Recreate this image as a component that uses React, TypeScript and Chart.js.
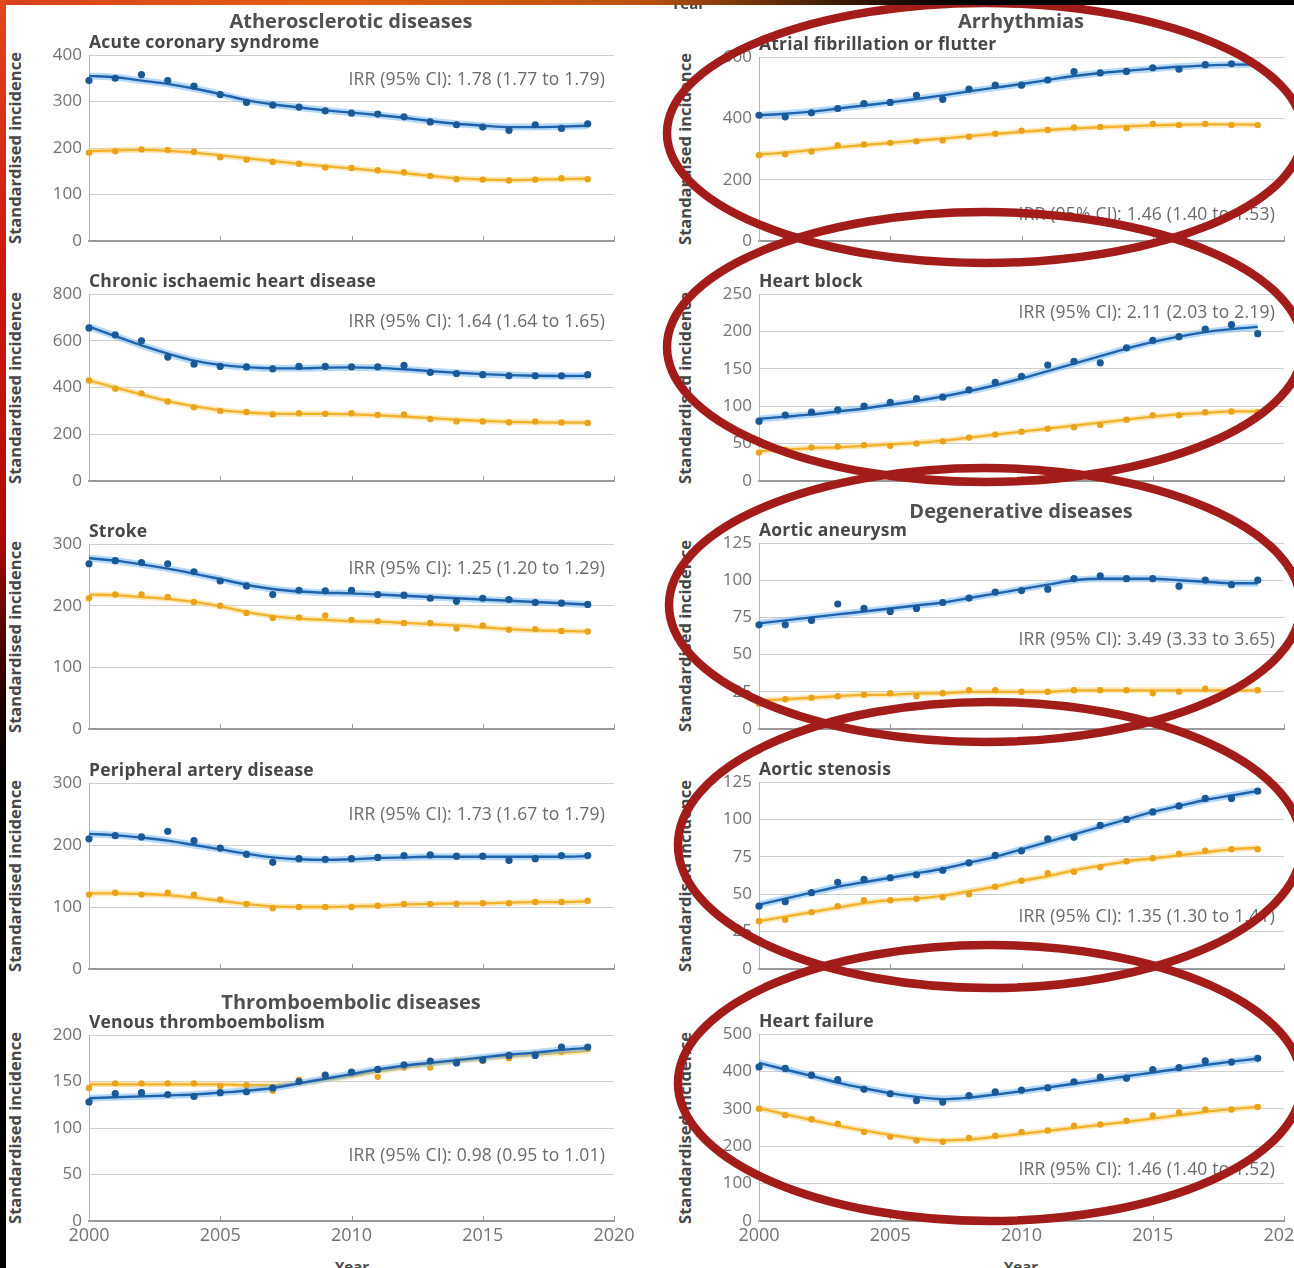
import React, { useEffect, useRef } from "react";
import { Chart, registerables } from "chart.js";
Chart.register(...registerables);

// ---------- data ----------
const YEARS = [2000, 2001, 2002, 2003, 2004, 2005, 2006, 2007, 2008, 2009, 2010, 2011, 2012, 2013, 2014, 2015, 2016, 2017, 2018, 2019];

// Acute coronary syndrome
const acsBlueDots = [345, 350, 358, 345, 333, 315, 298, 292, 288, 280, 275, 273, 267, 256, 250, 245, 238, 250, 242, 252];
const acsBlueFit = [355, 352, 345, 338, 328, 316, 303, 294, 287, 281, 276, 271, 265, 258, 252, 248, 245, 245, 246, 248];
const acsYellowDots = [190, 193, 197, 196, 192, 180, 175, 170, 166, 158, 157, 152, 148, 140, 133, 132, 130, 132, 135, 133];
const acsYellowFit = [193, 195, 196, 194, 190, 184, 178, 172, 166, 161, 156, 151, 146, 140, 135, 132, 131, 132, 133, 134];

// Chronic ischaemic heart disease
const cihdBlueDots = [655, 625, 600, 530, 500, 490, 488, 480, 490, 490, 488, 488, 495, 465, 460, 455, 450, 450, 450, 455];
const cihdBlueFit = [660, 620, 580, 545, 515, 497, 487, 482, 482, 485, 486, 484, 478, 470, 463, 457, 453, 450, 449, 450];
const cihdYellowDots = [430, 395, 375, 340, 315, 300, 295, 285, 290, 288, 290, 283, 285, 265, 255, 255, 250, 255, 250, 248];
const cihdYellowFit = [430, 400, 370, 342, 320, 303, 293, 288, 287, 287, 285, 281, 276, 269, 262, 257, 253, 251, 250, 250];

// Stroke
const strokeBlueDots = [268, 273, 270, 268, 255, 240, 232, 218, 225, 224, 225, 218, 217, 212, 207, 212, 210, 205, 204, 202];
const strokeBlueFit = [277, 273, 267, 260, 252, 243, 234, 227, 223, 221, 220, 218, 216, 214, 212, 210, 208, 206, 204, 202];
const strokeYellowDots = [212, 218, 218, 214, 206, 200, 188, 180, 181, 184, 177, 175, 172, 172, 163, 168, 161, 162, 159, 158];
const strokeYellowFit = [218, 217, 214, 211, 206, 199, 190, 183, 179, 177, 175, 174, 172, 170, 168, 165, 162, 160, 159, 158];

// Peripheral artery disease
const padBlueDots = [210, 215, 213, 222, 207, 195, 185, 172, 178, 177, 178, 180, 183, 184, 182, 182, 175, 178, 183, 183];
const padBlueFit = [218, 216, 212, 207, 200, 193, 186, 180, 177, 176, 177, 179, 180, 181, 181, 181, 181, 181, 181, 182];
const padYellowDots = [120, 123, 120, 123, 120, 112, 105, 98, 100, 100, 100, 102, 105, 105, 105, 106, 106, 108, 108, 110];
const padYellowFit = [122, 122, 121, 119, 115, 110, 105, 101, 100, 100, 101, 102, 104, 105, 106, 106, 107, 108, 108, 109];

// Venous thromboembolism
const vteBlueDots = [128, 137, 138, 136, 134, 138, 139, 143, 150, 157, 160, 163, 168, 172, 170, 173, 178, 178, 187, 187];
const vteBlueFit = [132, 133, 134, 135, 136, 138, 140, 143, 148, 153, 158, 163, 167, 170, 173, 176, 179, 181, 184, 186];
const vteYellowDots = [143, 148, 148, 148, 148, 145, 146, 140, 152, 155, 158, 155, 165, 165, 173, 172, 175, 180, 182, 185];
const vteYellowFit = [147, 147, 147, 147, 147, 147, 146, 146, 148, 152, 156, 161, 165, 169, 172, 175, 177, 179, 181, 183];

// Atrial fibrillation or flutter
const afBlueDots = [410, 405, 418, 432, 448, 452, 475, 462, 495, 508, 508, 525, 552, 548, 553, 565, 560, 575, 578, 572];
const afBlueFit = [410, 415, 422, 432, 442, 452, 463, 475, 488, 500, 512, 525, 538, 548, 555, 562, 568, 572, 575, 576];
const afYellowDots = [280, 283, 292, 312, 315, 320, 325, 328, 340, 350, 360, 362, 370, 372, 368, 382, 378, 382, 378, 378];
const afYellowFit = [282, 288, 296, 305, 313, 320, 327, 334, 342, 349, 356, 362, 367, 371, 374, 377, 379, 380, 380, 379];

// Heart block
const hbBlueDots = [80, 88, 92, 95, 100, 105, 110, 112, 122, 132, 140, 155, 160, 158, 178, 188, 193, 203, 209, 197];
const hbBlueFit = [83, 86, 89, 93, 97, 102, 107, 113, 120, 128, 137, 147, 157, 167, 177, 186, 193, 199, 203, 206];
const hbYellowDots = [38, 42, 45, 46, 48, 47, 50, 53, 58, 62, 66, 70, 72, 75, 82, 88, 88, 92, 93, 92];
const hbYellowFit = [40, 42, 44, 45, 47, 49, 51, 54, 58, 62, 66, 70, 74, 78, 82, 86, 89, 91, 93, 93];

// Aortic aneurysm
const aaBlueDots = [70, 70, 73, 84, 81, 79, 81, 85, 88, 92, 93, 94, 101, 103, 101, 101, 96, 100, 97, 100];
const aaBlueFit = [71, 73, 75, 77, 79, 81, 83, 85, 88, 91, 94, 97, 100, 101, 101, 101, 100, 99, 98, 98];
const aaYellowDots = [17, 20, 21, 22, 23, 24, 22, 24, 26, 26, 25, 25, 26, 26, 26, 24, 25, 27, 26, 26];
const aaYellowFit = [19, 20, 21, 22, 23, 23, 24, 24, 25, 25, 25, 25, 26, 26, 26, 26, 26, 26, 26, 26];

// Aortic stenosis
const asBlueDots = [42, 45, 51, 58, 60, 61, 63, 66, 71, 76, 79, 87, 88, 96, 100, 105, 109, 114, 114, 119];
const asBlueFit = [43, 47, 51, 55, 58, 61, 64, 67, 71, 75, 80, 85, 90, 95, 100, 105, 109, 113, 116, 119];
const asYellowDots = [32, 33, 38, 42, 46, 46, 47, 48, 50, 55, 59, 64, 65, 68, 72, 74, 77, 79, 80, 80];
const asYellowFit = [32, 35, 38, 41, 44, 46, 47, 49, 52, 55, 59, 62, 66, 69, 72, 74, 76, 78, 80, 81];

// Heart failure
const hfBlueDots = [412, 408, 390, 378, 352, 340, 322, 318, 335, 345, 350, 356, 372, 385, 382, 405, 410, 428, 425, 435];
const hfBlueFit = [423, 405, 388, 370, 355, 342, 332, 326, 330, 338, 347, 357, 367, 377, 387, 397, 407, 417, 426, 434];
const hfYellowDots = [300, 283, 272, 260, 238, 225, 215, 212, 222, 228, 238, 242, 255, 258, 268, 282, 290, 298, 298, 305];
const hfYellowFit = [302, 285, 270, 255, 242, 230, 220, 215, 218, 225, 233, 241, 249, 257, 265, 274, 283, 292, 299, 305];

const X_MIN = 2000;
const X_MAX = 2020;
const X_STEP = 5;

// ---------- layout ----------
const COL_LEFT = [89, 759];
const PLOT_W = 525;
const ROWS_LEFT = [[55, 241], [294, 481], [544, 729], [783, 969], [1035, 1221]];
const ROWS_RIGHT = [[57, 241], [294, 481], [543, 729], [782, 969], [1034, 1221]];

const FONT = "'Open Sans', 'Noto Sans', sans-serif";
const BLUE_LINE = "#1f62ad";
const BLUE_DOT = "#1a5896";
const BLUE_BAND = "rgba(120,185,240,0.55)";
const YEL_LINE = "#f2b22c";
const YEL_DOT = "#e9a31a";
const YEL_BAND = "rgba(252,214,130,0.55)";

type PanelCfg = {
  col: number;
  row: number;
  yMax: number;
  yStep: number;
  blueDots: number[];
  blueFit: number[];
  yellowDots: number[];
  yellowFit: number[];
  title: string;
  irr: string;
  irrY: number;
};

const PANELS: PanelCfg[] = [
  { col: 0, row: 0, yMax: 400, yStep: 100, blueDots: acsBlueDots, blueFit: acsBlueFit, yellowDots: acsYellowDots, yellowFit: acsYellowFit, title: "Acute coronary syndrome", irr: "IRR (95% CI): 1.78 (1.77 to 1.79)", irrY: 78 },
  { col: 0, row: 1, yMax: 800, yStep: 200, blueDots: cihdBlueDots, blueFit: cihdBlueFit, yellowDots: cihdYellowDots, yellowFit: cihdYellowFit, title: "Chronic ischaemic heart disease", irr: "IRR (95% CI): 1.64 (1.64 to 1.65)", irrY: 320 },
  { col: 0, row: 2, yMax: 300, yStep: 100, blueDots: strokeBlueDots, blueFit: strokeBlueFit, yellowDots: strokeYellowDots, yellowFit: strokeYellowFit, title: "Stroke", irr: "IRR (95% CI): 1.25 (1.20 to 1.29)", irrY: 567 },
  { col: 0, row: 3, yMax: 300, yStep: 100, blueDots: padBlueDots, blueFit: padBlueFit, yellowDots: padYellowDots, yellowFit: padYellowFit, title: "Peripheral artery disease", irr: "IRR (95% CI): 1.73 (1.67 to 1.79)", irrY: 813 },
  { col: 0, row: 4, yMax: 200, yStep: 50, blueDots: vteBlueDots, blueFit: vteBlueFit, yellowDots: vteYellowDots, yellowFit: vteYellowFit, title: "Venous thromboembolism", irr: "IRR (95% CI): 0.98 (0.95 to 1.01)", irrY: 1154 },
  { col: 1, row: 0, yMax: 600, yStep: 200, blueDots: afBlueDots, blueFit: afBlueFit, yellowDots: afYellowDots, yellowFit: afYellowFit, title: "Atrial fibrillation or flutter", irr: "IRR (95% CI): 1.46 (1.40 to 1.53)", irrY: 213 },
  { col: 1, row: 1, yMax: 250, yStep: 50, blueDots: hbBlueDots, blueFit: hbBlueFit, yellowDots: hbYellowDots, yellowFit: hbYellowFit, title: "Heart block", irr: "IRR (95% CI): 2.11 (2.03 to 2.19)", irrY: 311 },
  { col: 1, row: 2, yMax: 125, yStep: 25, blueDots: aaBlueDots, blueFit: aaBlueFit, yellowDots: aaYellowDots, yellowFit: aaYellowFit, title: "Aortic aneurysm", irr: "IRR (95% CI): 3.49 (3.33 to 3.65)", irrY: 638 },
  { col: 1, row: 3, yMax: 125, yStep: 25, blueDots: asBlueDots, blueFit: asBlueFit, yellowDots: asYellowDots, yellowFit: asYellowFit, title: "Aortic stenosis", irr: "IRR (95% CI): 1.35 (1.30 to 1.41)", irrY: 915 },
  { col: 1, row: 4, yMax: 500, yStep: 100, blueDots: hfBlueDots, blueFit: hfBlueFit, yellowDots: hfYellowDots, yellowFit: hfYellowFit, title: "Heart failure", irr: "IRR (95% CI): 1.46 (1.40 to 1.52)", irrY: 1168 },
];

const GROUP_TITLES = [
  { text: "Atherosclerotic diseases", x: 351, y: 21 },
  { text: "Thromboembolic diseases", x: 351, y: 1002 },
  { text: "Arrhythmias", x: 1021, y: 21 },
  { text: "Degenerative diseases", x: 1021, y: 511 },
];

const ELLIPSES = [
  { cx: 985, cy: 133, rx: 318, ry: 130 },
  { cx: 985, cy: 347, rx: 318, ry: 135 },
  { cx: 985, cy: 605, rx: 316, ry: 137 },
  { cx: 990, cy: 845, rx: 312, ry: 143 },
  { cx: 990, cy: 1083, rx: 312, ry: 138 },
];

const Y_AXIS_W = 45;
const PAD_TOP = 12;
const PAD_RIGHT = 30;
const X_AXIS_H = 30;

const innerTicks = {
  id: "innerTicks",
  afterDraw(chart: any) {
    const xs = chart.scales.x;
    const ctx = chart.ctx;
    const bottom = chart.chartArea.bottom;
    ctx.save();
    ctx.strokeStyle = "#9a9a9a";
    ctx.lineWidth = 1;
    xs.ticks.forEach((t: any) => {
      if (t.value === X_MIN) return;
      const px = Math.round(xs.getPixelForValue(t.value)) + 0.5;
      ctx.beginPath();
      ctx.moveTo(px, bottom);
      ctx.lineTo(px, bottom - 5);
      ctx.stroke();
    });
    ctx.restore();
  },
};

function pts(vals: number[]) {
  return YEARS.map((y, i) => ({ x: y, y: vals[i] }));
}

function Panel({ cfg }: { cfg: PanelCfg }) {
  const ref = useRef<HTMLCanvasElement | null>(null);
  const rows = cfg.col === 0 ? ROWS_LEFT : ROWS_RIGHT;
  const [top, bottom] = rows[cfg.row];
  const plotH = bottom - top;
  const left = COL_LEFT[cfg.col];
  const cw = PLOT_W + Y_AXIS_W + PAD_RIGHT;
  const ch = plotH + PAD_TOP + X_AXIS_H;
  const isBottom = cfg.row === 4;

  useEffect(() => {
    if (!ref.current) return;
    const common = { pointRadius: 0, cubicInterpolationMode: "monotone" as const, clip: false as any, fill: false };
    const chart = new Chart(ref.current, {
      type: "line",
      data: {
        datasets: [
          { ...common, data: pts(cfg.blueDots), showLine: false, pointRadius: 3.6, pointBackgroundColor: BLUE_DOT, pointBorderWidth: 0, borderColor: BLUE_DOT, order: 0 },
          { ...common, data: pts(cfg.blueFit), borderColor: BLUE_LINE, borderWidth: 2.4, order: 1 },
          { ...common, data: pts(cfg.blueFit), borderColor: BLUE_BAND, borderWidth: 7, order: 2 },
          { ...common, data: pts(cfg.yellowDots), showLine: false, pointRadius: 3.2, pointBackgroundColor: YEL_DOT, pointBorderWidth: 0, borderColor: YEL_DOT, order: 3 },
          { ...common, data: pts(cfg.yellowFit), borderColor: YEL_LINE, borderWidth: 2.3, order: 4 },
          { ...common, data: pts(cfg.yellowFit), borderColor: YEL_BAND, borderWidth: 6, order: 5 },
        ] as any,
      },
      options: {
        animation: false,
        responsive: false,
        devicePixelRatio: 1,
        layout: { padding: { top: PAD_TOP, right: PAD_RIGHT, left: 0, bottom: 0 } },
        plugins: { legend: { display: false }, tooltip: { enabled: false }, title: { display: false } },
        events: [],
        scales: {
          x: {
            type: "linear",
            min: X_MIN,
            max: X_MAX,
            ticks: { stepSize: X_STEP, display: isBottom, color: "#727272", font: { family: FONT, size: 18 }, padding: 4, callback: (v: any) => String(v) },
            grid: { display: true, drawOnChartArea: false, drawTicks: false },
            border: { display: true, color: "#9a9a9a", width: 2 },
            afterFit: (s: any) => { s.height = X_AXIS_H; s.paddingLeft = 0; s.paddingRight = 0; },
          },
          y: {
            min: 0,
            max: cfg.yMax,
            ticks: { stepSize: cfg.yStep, color: "#727272", font: { family: FONT, size: 17 }, padding: 7 },
            grid: { color: "#cfcfcf", lineWidth: 1, drawTicks: false },
            border: { display: true, color: "#b5b5b5", width: 1 },
            afterFit: (s: any) => { s.width = Y_AXIS_W; s.paddingTop = 0; s.paddingBottom = 0; },
          },
        },
      },
      plugins: [innerTicks],
    } as any);
    return () => chart.destroy();
  }, [cfg]);

  return (
    <canvas
      ref={ref}
      width={cw}
      height={ch}
      style={{ position: "absolute", left: left - Y_AXIS_W, top: top - PAD_TOP, width: cw, height: ch }}
    />
  );
}

function Txt(props: { x: number; y: number; align?: "left" | "center" | "right"; size: number; weight?: number; color: string; children: any; rotate?: boolean; spacing?: string }) {
  const { x, y, align = "left", size, weight = 400, color, children, rotate, spacing = "0px" } = props;
  const tx = align === "left" ? "0%" : align === "center" ? "-50%" : "-100%";
  return (
    <div
      style={{
        position: "absolute",
        left: x,
        top: y,
        transform: rotate ? "translate(-50%, -50%) rotate(-90deg)" : `translate(${tx}, -50%)`,
        fontFamily: FONT,
        fontSize: size,
        fontWeight: weight,
        color,
        whiteSpace: "nowrap",
        lineHeight: 1.2,
        letterSpacing: spacing,
      }}
    >
      {children}
    </div>
  );
}

export default function App() {
  return (
    <div style={{ position: "absolute", left: 0, top: 0, width: 1294, height: 1268, overflow: "hidden", background: "#ffffff" }}>
      {PANELS.map((p, i) => {
        const rows = p.col === 0 ? ROWS_LEFT : ROWS_RIGHT;
        const [top, bottom] = rows[p.row];
        const left = COL_LEFT[p.col];
        return (
          <React.Fragment key={i}>
            <Panel cfg={p} />
            <Txt x={left} y={top - 14} size={17.5} weight={700} color="#474747" spacing="0.2px">{p.title}</Txt>
            <Txt x={left + PLOT_W - 9} y={p.irrY} align="right" size={17.5} color="#6a6a6a" spacing="0.2px">{p.irr}</Txt>
            <Txt x={p.col === 0 ? 15 : 685} y={(top + bottom) / 2} size={16.5} weight={700} color="#474747" rotate>Standardised incidence</Txt>
          </React.Fragment>
        );
      })}
      {GROUP_TITLES.map((g, i) => (
        <Txt key={"g" + i} x={g.x} y={g.y} align="center" size={20} weight={700} color="#505050">{g.text}</Txt>
      ))}
      <Txt x={352} y={1266} align="center" size={15} weight={700} color="#4a4a4a">Year</Txt>
      <Txt x={1021} y={1266} align="center" size={15} weight={700} color="#4a4a4a">Year</Txt>
      <Txt x={688} y={3} align="center" size={15} weight={700} color="#4a4a4a">Year</Txt>
      <svg width={1294} height={1268} style={{ position: "absolute", left: 0, top: 0, pointerEvents: "none" }}>
        <defs>
          <linearGradient id="topg" x1="0" y1="0" x2="1" y2="0">
            <stop offset="0" stopColor="#d8401a" />
            <stop offset="0.25" stopColor="#e2600f" />
            <stop offset="0.5" stopColor="#b8520e" />
            <stop offset="0.65" stopColor="#3a1a05" />
            <stop offset="0.75" stopColor="#000000" />
            <stop offset="1" stopColor="#000000" />
          </linearGradient>
          <linearGradient id="leftg" x1="0" y1="0" x2="0" y2="1">
            <stop offset="0" stopColor="#e0481a" />
            <stop offset="0.2" stopColor="#d01a10" />
            <stop offset="0.42" stopColor="#b00a08" />
            <stop offset="0.55" stopColor="#200000" />
            <stop offset="0.62" stopColor="#000000" />
            <stop offset="1" stopColor="#000000" />
          </linearGradient>
        </defs>
        {ELLIPSES.map((e, i) => (
          <ellipse key={i} cx={e.cx} cy={e.cy} rx={e.rx} ry={e.ry} fill="none" stroke="#a21d1a" strokeWidth={8.5} />
        ))}
        <rect x={0} y={0} width={1294} height={5} fill="url(#topg)" />
        <rect x={0} y={0} width={6} height={1268} fill="url(#leftg)" />
      </svg>
    </div>
  );
}
